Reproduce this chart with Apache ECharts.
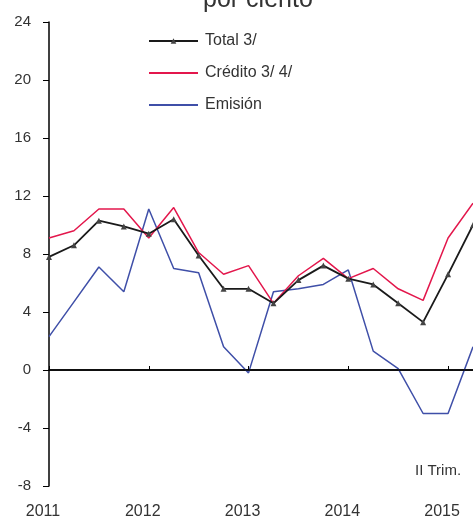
<!DOCTYPE html>
<html>
<head>
<meta charset="utf-8">
<script src="https://cdn.jsdelivr.net/npm/echarts@6/dist/echarts.min.js"></script>
<style>
  html, body { margin: 0; padding: 0; background: #fff; }
  #chart { width: 473px; height: 520px; }
</style>
</head>
<body>
<div id="chart"></div>
<script>
// trimestres 2011-I a 2015-II
var quarters = ['2011-I', '2011-II', '2011-III', '2011-IV',
                '2012-I', '2012-II', '2012-III', '2012-IV',
                '2013-I', '2013-II', '2013-III', '2013-IV',
                '2014-I', '2014-II', '2014-III', '2014-IV',
                '2015-I', '2015-II'];
var total   = [7.8, 8.6, 10.3, 9.9, 9.4, 10.4, 7.9, 5.6, 5.6, 4.6, 6.2, 7.2, 6.3, 5.9, 4.6, 3.3, 6.6, 10.0];
var credito = [9.1, 9.6, 11.1, 11.1, 9.1, 11.2, 8.1, 6.6, 7.2, 4.6, 6.5, 7.7, 6.3, 7.0, 5.6, 4.8, 9.1, 11.5];
var emision = [2.3, 4.7, 7.1, 5.4, 11.1, 7.0, 6.7, 1.6, -0.2, 5.4, 5.6, 5.9, 6.9, 1.3, 0.1, -3.0, -3.0, 1.6];
var yTicks  = [-8, 24, 4]; // min, max, intervalo

var chart = echarts.init(document.getElementById('chart'));
var txt = '#333';
var font = 'Liberation Sans, Arial, sans-serif';

var option = {
    backgroundColor: '#fff',
    animation: false,
    title: {
        text: 'por ciento',
        left: 198,
        top: -17,
        textStyle: { fontSize: 25, fontWeight: 'normal', color: txt, fontFamily: font }
    },
    legend: {
        orient: 'vertical',
        left: 143,
        top: 28,
        itemWidth: 49,
        itemHeight: 7,
        itemGap: 16,
        textStyle: { fontSize: 16, color: txt, fontFamily: font, padding: [0, 0, 0, 2] },
        data: [
            { name: 'Total 3/' },
            { name: 'Crédito 3/ 4/', itemStyle: { opacity: 0 } },
            { name: 'Emisión', itemStyle: { opacity: 0 } }
        ]
    },
    grid: { left: 49, right: -3, top: 22, bottom: 33 },
    xAxis: {
        type: 'category',
        boundaryGap: false,
        data: quarters,
        axisLine: { lineStyle: { color: '#000', width: 1.5 } },
        axisTick: { interval: 3, inside: true, length: 4, lineStyle: { color: '#000' } },
        axisLabel: {
            interval: 3,
            margin: 18,
            color: txt,
            fontSize: 16,
            fontFamily: font,
            padding: [0, 12, 0, 0],
            formatter: function (v) { return v.slice(0, 4); }
        },
        splitLine: { show: false }
    },
    yAxis: {
        type: 'value',
        min: yTicks[0],
        max: yTicks[1],
        interval: yTicks[2],
        axisLine: { show: true, lineStyle: { color: '#000', width: 1.5 } },
        axisTick: { show: true, length: 6, lineStyle: { color: '#000' } },
        axisLabel: { margin: 18, color: txt, fontSize: 15, fontFamily: font },
        splitLine: { show: false }
    },
    graphic: [{
        type: 'text',
        left: 415,
        top: 463,
        style: { text: 'II Trim.', fill: txt, font: '15px ' + font }
    }],
    series: [
        {
            name: 'Emisión',
            type: 'line',
            data: emision,
            symbol: 'none',
            lineStyle: { color: '#3f4fa8', width: 1.5 },
            itemStyle: { color: '#3f4fa8' },
            z: 2
        },
        {
            name: 'Crédito 3/ 4/',
            type: 'line',
            data: credito,
            symbol: 'none',
            lineStyle: { color: '#e3174c', width: 1.5 },
            itemStyle: { color: '#e3174c' },
            z: 3
        },
        {
            name: 'Total 3/',
            type: 'line',
            data: total,
            symbol: 'triangle',
            symbolSize: 6,
            lineStyle: { color: '#1a1a1a', width: 1.8 },
            itemStyle: { color: '#444' },
            z: 4,
            markLine: {
                silent: true,
                symbol: 'none',
                label: { show: false },
                lineStyle: { color: '#000', width: 1.5, type: 'solid' },
                data: [{ yAxis: 0 }]
            }
        }
    ]
};

//渲染图表
if (option && typeof option === "object") {
    chart.setOption(option, true);
}
</script>
</body>
</html>
